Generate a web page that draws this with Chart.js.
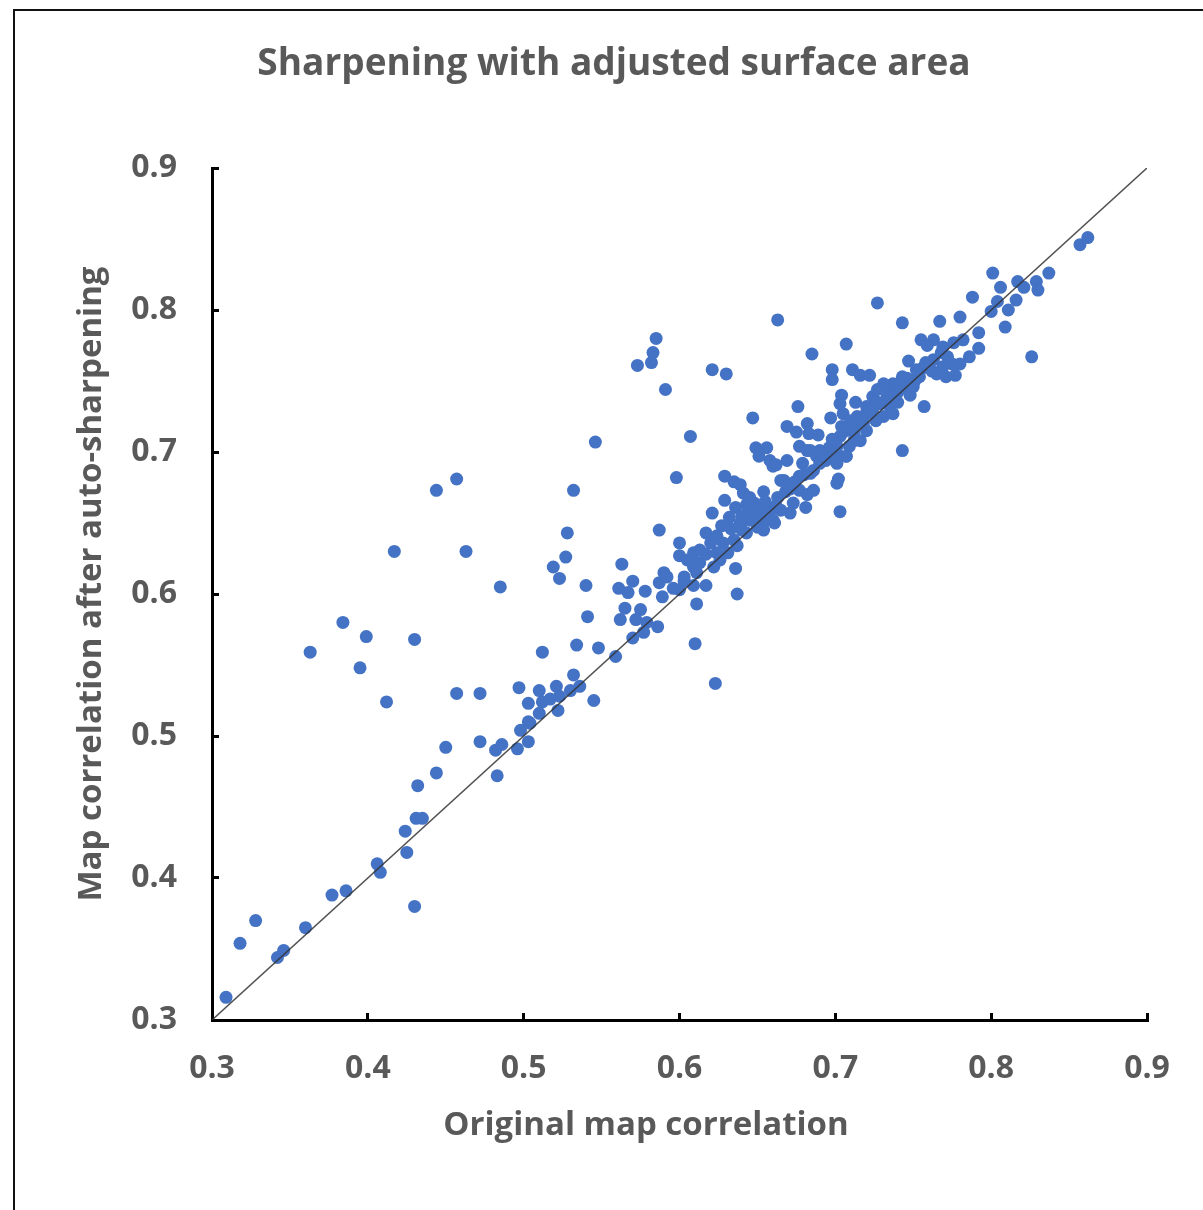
<!DOCTYPE html>
<html>
<head>
<meta charset="utf-8">
<title>Sharpening with adjusted surface area</title>
<script src="https://cdn.jsdelivr.net/npm/chart.js@4.4.1/dist/chart.umd.min.js"></script>
<style>
    html, body { margin: 0; padding: 0; background: #fff; }
    #wrap { position: relative; width: 1203px; height: 1210px; overflow: hidden; }
    #frame {
        position: absolute; left: 13px; top: 9px; width: 1300px; height: 1300px;
        border-top: 2px solid #111; border-left: 2px solid #111;
        pointer-events: none;
    }
</style>
</head>
<body>
<div id="wrap">
    <canvas id="scatterChart" width="1203" height="1210"></canvas>
    <div id="frame"></div>
</div>
<script>
// Chart texts
const chartTitle = 'Sharpening with adjusted surface area';
const xTitle = 'Original map correlation';
const yTitle = 'Map correlation after auto-sharpening';

// Axis ticks
const tickValues = [0.3, 0.4, 0.5, 0.6, 0.7, 0.8, 0.9];

// Original map correlation (x)
const origCorr = [
    0.309, 0.318, 0.328, 0.342, 0.346, 0.360, 0.377, 0.386, 0.406, 0.408,
    0.424, 0.425, 0.430, 0.431, 0.435, 0.432, 0.444, 0.450, 0.472, 0.482,
    0.486, 0.483, 0.496, 0.503,
    0.457, 0.444, 0.417, 0.463, 0.485, 0.384, 0.399, 0.430, 0.363, 0.395,
    0.412, 0.457, 0.472,
    0.497, 0.503, 0.498, 0.504, 0.510, 0.521, 0.536, 0.503, 0.512, 0.517,
    0.523, 0.530, 0.522, 0.510, 0.512, 0.532, 0.534, 0.545, 0.548, 0.559,
    0.541, 0.540, 0.519, 0.523, 0.527, 0.528, 0.532, 0.546, 0.563, 0.561,
    0.567, 0.570, 0.578, 0.590, 0.587, 0.589, 0.600, 0.603, 0.609, 0.617,
    0.565, 0.575, 0.562, 0.572, 0.579, 0.586, 0.570, 0.577, 0.611, 0.610,
    0.623, 0.587, 0.600, 0.598, 0.607, 0.573, 0.582, 0.583, 0.585, 0.591,
    0.621, 0.630, 0.663, 0.685, 0.647, 0.637,
    0.617, 0.624, 0.620, 0.628, 0.635, 0.637, 0.631, 0.624, 0.626, 0.613,
    0.609, 0.607, 0.600, 0.613, 0.636, 0.622, 0.609, 0.605,
    0.621, 0.629, 0.636, 0.643, 0.648, 0.654, 0.658,
    0.632, 0.639, 0.645, 0.652, 0.650, 0.643, 0.654, 0.661, 0.660,
    0.629, 0.635, 0.639, 0.641, 0.654,
    0.665, 0.671, 0.677, 0.682, 0.681, 0.673, 0.671, 0.665, 0.662,
    0.649, 0.656, 0.651, 0.658, 0.662, 0.669, 0.660,
    0.669, 0.675, 0.682, 0.683, 0.689, 0.676,
    0.677, 0.684, 0.690, 0.679, 0.686, 0.677, 0.694, 0.701, 0.707, 0.712,
    0.709, 0.705,
    0.702, 0.703, 0.701, 0.684, 0.686, 0.667, 0.688, 0.690, 0.682,
    0.704, 0.703, 0.713, 0.697,
    0.705, 0.714, 0.718, 0.720, 0.712, 0.707, 0.703, 0.701, 0.709, 0.716,
    0.707, 0.701, 0.697,
    0.724, 0.729, 0.735, 0.737, 0.731, 0.724, 0.720,
    0.726, 0.733, 0.740, 0.745, 0.748, 0.740,
    0.743, 0.737, 0.731, 0.727, 0.750, 0.754, 0.757, 0.743,
    0.698, 0.698, 0.711, 0.716, 0.722,
    0.707, 0.727, 0.743, 0.767, 0.780, 0.792, 0.792,
    0.782, 0.776, 0.769, 0.755, 0.763, 0.759, 0.786, 0.780, 0.747,
    0.756, 0.763, 0.769, 0.771, 0.777, 0.765,
    0.801, 0.837, 0.806, 0.817, 0.821, 0.829, 0.830, 0.816, 0.804, 0.788,
    0.800, 0.811, 0.809, 0.826, 0.857, 0.862,
    0.640, 0.646, 0.650, 0.655, 0.645, 0.633, 0.627, 0.640, 0.656, 0.663,
    0.668, 0.674, 0.680, 0.692, 0.696, 0.698, 0.704, 0.710, 0.716, 0.719,
    0.722, 0.727, 0.733, 0.738, 0.742, 0.746, 0.751, 0.752, 0.758, 0.762,
    0.768, 0.772, 0.775, 0.617, 0.611, 0.603, 0.596, 0.592
];

// Map correlation after auto-sharpening (y)
const sharpCorr = [
    0.316, 0.354, 0.370, 0.344, 0.349, 0.365, 0.388, 0.391, 0.410, 0.404,
    0.433, 0.418, 0.380, 0.442, 0.442, 0.465, 0.474, 0.492, 0.496, 0.490,
    0.494, 0.472, 0.491, 0.496,
    0.681, 0.673, 0.630, 0.630, 0.605, 0.580, 0.570, 0.568, 0.559, 0.548,
    0.524, 0.530, 0.530,
    0.534, 0.510, 0.504, 0.509, 0.532, 0.535, 0.535, 0.523, 0.524, 0.526,
    0.528, 0.532, 0.518, 0.516, 0.559, 0.543, 0.564, 0.525, 0.562, 0.556,
    0.584, 0.606, 0.619, 0.611, 0.626, 0.643, 0.673, 0.707, 0.621, 0.604,
    0.601, 0.609, 0.602, 0.615, 0.608, 0.598, 0.603, 0.609, 0.606, 0.606,
    0.590, 0.589, 0.582, 0.582, 0.580, 0.577, 0.569, 0.573, 0.593, 0.565,
    0.537, 0.645, 0.636, 0.682, 0.711, 0.761, 0.763, 0.770, 0.780, 0.744,
    0.758, 0.755, 0.793, 0.769, 0.724, 0.600,
    0.643, 0.641, 0.636, 0.636, 0.638, 0.634, 0.629, 0.629, 0.624, 0.631,
    0.629, 0.624, 0.627, 0.622, 0.618, 0.619, 0.619, 0.624,
    0.657, 0.666, 0.661, 0.663, 0.664, 0.660, 0.658,
    0.654, 0.650, 0.652, 0.654, 0.647, 0.643, 0.645, 0.650, 0.652,
    0.683, 0.679, 0.677, 0.671, 0.672,
    0.680, 0.674, 0.673, 0.670, 0.661, 0.664, 0.657, 0.659, 0.662,
    0.703, 0.703, 0.697, 0.694, 0.691, 0.694, 0.690,
    0.718, 0.714, 0.720, 0.713, 0.712, 0.732,
    0.704, 0.701, 0.701, 0.692, 0.687, 0.683, 0.694, 0.699, 0.697, 0.708,
    0.717, 0.714,
    0.681, 0.658, 0.678, 0.685, 0.673, 0.680, 0.697, 0.692, 0.701,
    0.740, 0.734, 0.735, 0.724,
    0.727, 0.725, 0.720, 0.715, 0.713, 0.718, 0.711, 0.704, 0.704, 0.708,
    0.697, 0.692, 0.699,
    0.739, 0.734, 0.732, 0.727, 0.725, 0.730, 0.732,
    0.722, 0.738, 0.742, 0.748, 0.740, 0.735,
    0.753, 0.748, 0.748, 0.744, 0.746, 0.753, 0.732, 0.701,
    0.758, 0.751, 0.758, 0.754, 0.754,
    0.776, 0.805, 0.791, 0.792, 0.795, 0.784, 0.773,
    0.779, 0.777, 0.774, 0.779, 0.779, 0.775, 0.767, 0.762, 0.764,
    0.759, 0.765, 0.760, 0.753, 0.754, 0.755,
    0.826, 0.826, 0.816, 0.820, 0.816, 0.820, 0.814, 0.807, 0.806, 0.809,
    0.799, 0.800, 0.788, 0.767, 0.846, 0.851,
    0.655, 0.658, 0.660, 0.665, 0.668, 0.646, 0.648, 0.645, 0.652, 0.668,
    0.672, 0.679, 0.684, 0.698, 0.703, 0.709, 0.718, 0.722, 0.720, 0.726,
    0.729, 0.735, 0.742, 0.740, 0.745, 0.752, 0.750, 0.758, 0.763, 0.757,
    0.770, 0.767, 0.762, 0.628, 0.615, 0.612, 0.604, 0.612
];

// Identity line y = x
const diagX = [0.3, 0.9];
const diagY = [0.3, 0.9];

const textColor = '#595959';
const labelFont = '"Open Sans", "DejaVu Sans", sans-serif';

// Draws the chart title and both axis titles
const titlesPlugin = {
    id: 'titles',
    afterDraw(chart) {
        const ctx = chart.ctx;
        ctx.save();
        ctx.fillStyle = textColor;
        ctx.textAlign = 'center';
        ctx.textBaseline = 'middle';

        ctx.font = 'bold 37px ' + labelFont;
        ctx.fillText(chartTitle, 614, 64);

        ctx.font = 'bold 33px ' + labelFont;
        ctx.fillText(xTitle, 646, 1126);

        ctx.translate(92, 584);
        ctx.rotate(-Math.PI / 2);
        ctx.fillText(yTitle, 0, 0);
        ctx.restore();
    }
};

document.addEventListener('DOMContentLoaded', function() {
    const points = origCorr.map((x, i) => ({ x: x, y: sharpCorr[i] }));
    const diagonal = diagX.map((x, i) => ({ x: x, y: diagY[i] }));

    const axisStyle = {
        type: 'linear',
        min: tickValues[0],
        max: tickValues[tickValues.length - 1],
        afterBuildTicks: function(scale) {
            scale.ticks = tickValues.map(v => ({ value: v }));
        },
        border: { display: true, color: '#000', width: 3 },
        grid: {
            drawOnChartArea: false,
            drawTicks: true,
            tickLength: -7,
            color: '#000',
            lineWidth: 3
        },
        ticks: {
            color: textColor,
            font: { family: labelFont, size: 32, weight: 'bold' },
            autoSkip: false,
            maxRotation: 0,
            callback: v => v.toFixed(1)
        }
    };

    const ctx = document.getElementById('scatterChart').getContext('2d');
    new Chart(ctx, {
        type: 'scatter',
        data: {
            datasets: [{
                type: 'line',
                data: diagonal,
                borderColor: 'rgba(50, 50, 50, 0.85)',
                borderWidth: 1.5,
                pointRadius: 0,
                fill: false,
                order: 0
            }, {
                data: points,
                backgroundColor: '#4472C4',
                borderWidth: 0,
                pointRadius: 6.5,
                order: 1
            }]
        },
        options: {
            responsive: false,
            animation: false,
            layout: { padding: { top: 168, right: 56, left: 0, bottom: 0 } },
            plugins: {
                legend: { display: false },
                tooltip: { enabled: false }
            },
            scales: {
                x: Object.assign({}, axisStyle, {
                    position: 'bottom',
                    ticks: Object.assign({}, axisStyle.ticks, { padding: 37 }),
                    afterFit: function(scale) {
                        scale.height = 190;
                        scale.paddingLeft = 0;
                        scale.paddingRight = 0;
                    }
                }),
                y: Object.assign({}, axisStyle, {
                    position: 'left',
                    ticks: Object.assign({}, axisStyle.ticks, { padding: 42 }),
                    afterFit: function(scale) {
                        scale.width = 212;
                        scale.paddingTop = 0;
                        scale.paddingBottom = 0;
                    }
                })
            }
        },
        plugins: [titlesPlugin]
    });
});
</script>
</body>
</html>
